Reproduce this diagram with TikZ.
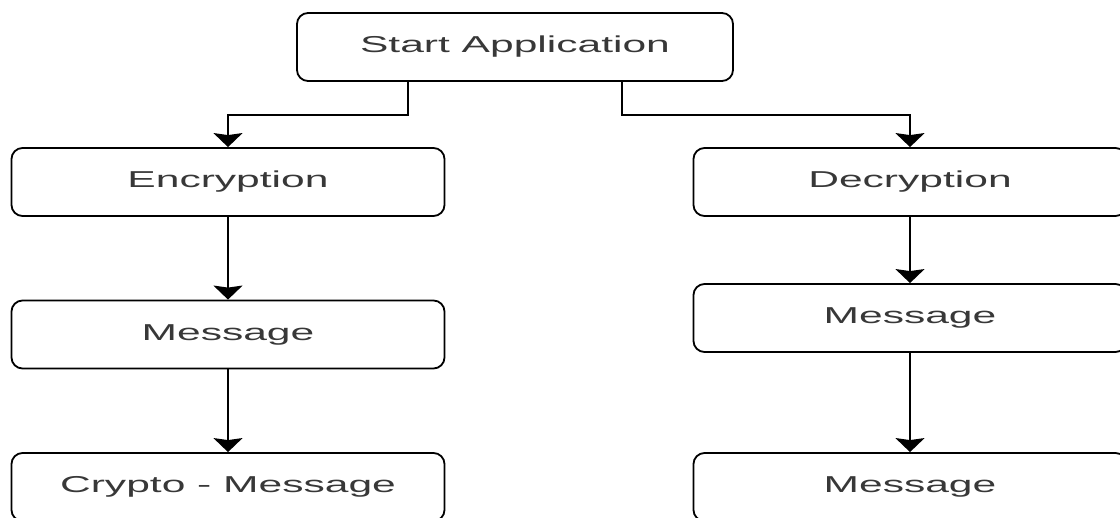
\documentclass[tikz,border=0pt]{standalone}
\usepackage{fontspec}
\usepackage{graphicx}
\setmainfont{Liberation Sans}
\usetikzlibrary{arrows.meta}
\newcommand{\widetext}[1]{\scalebox{1.85}[1]{#1}}
\tikzset{
  box/.style={draw=black, line width=1.8pt, rounded corners=11pt,
    minimum width=#1, minimum height=68pt, inner sep=0pt,
    font=\fontsize{23pt}{26pt}\selectfont, text=black!78},
  box/.default=433pt,
  arr/.style={line width=1.8pt, draw=black,
    -{Stealth[length=14pt, width=29pt, inset=2pt]}},
}
\begin{document}
\begin{tikzpicture}[x=1pt, y=1pt]
  \useasboundingbox (0,0) rectangle (1120,518);
  \fill[white] (0,0) rectangle (1120,518);
  \clip (0,0) rectangle (1120,518);

  % top node
  \node[box=436pt] (start) at (515,471) {\widetext{Start Application}};

  % encryption branch
  \node[box] (enc)    at (228,336)   {\widetext{Encryption}};
  \node[box] (msgL)   at (228,183.5) {\widetext{Message}};
  \node[box] (crypto) at (228,31)    {\widetext{Crypto - Message}};

  % decryption branch
  \node[box] (dec)    at (910,336)   {\widetext{Decryption}};
  \node[box] (msgR)   at (910,200)   {\widetext{Message}};
  \node[box] (msgR2)  at (910,31)    {\widetext{Message}};

  % connectors
  \draw[arr] ([xshift=-107pt]start.south) -- ++(0,-33) -| (enc.north);
  \draw[arr] ([xshift=107pt]start.south) -- ++(0,-33) -| (dec.north);
  \draw[arr] (enc.south) -- (msgL.north);
  \draw[arr] (msgL.south) -- (crypto.north);
  \draw[arr] (dec.south) -- (msgR.north);
  \draw[arr] (msgR.south) -- (msgR2.north);
\end{tikzpicture}
\end{document}
